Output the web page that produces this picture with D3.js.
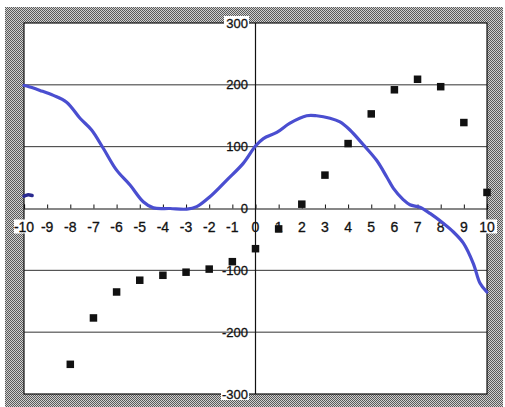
<!DOCTYPE html>
<html><head><meta charset="utf-8">
<script src="https://cdn.jsdelivr.net/npm/d3@7"></script>
<style>body{margin:0;background:#fff}svg{display:block}text{font-family:"Liberation Sans",Arial,sans-serif}</style>
</head><body>
<script>
// scatter series (black squares)
const pointX = [-8,-7,-6,-5,-4,-3,-2,-1,0,1,2,3,4,5,6,7,8,9,10];
const pointY = [-252,-177,-135,-116,-108,-103,-98,-86,-65,-33,7,54,105,153,192,209,197,139,26];
// hand drawn blue curve
const curveX = [-10,-9.88,-9.31,-8.73,-8.16,-7.58,-7.08,-6.57,-6.0,-5.42,-4.85,-4.41,-3.69,-2.97,-2.54,-1.97,-1.24,-0.53,0,0.34,0.92,1.49,2.21,2.64,3.22,3.65,4.08,4.66,5.23,5.67,5.95,6.39,6.67,7.1,7.54,8.11,8.55,8.98,9.41,9.70,9.99];
const curveY = [199,198,191,183,172,146,127,97,62,38,11,1,0,-1,3,19,46,73,101,113,123,138,150,150,146,140,127,103,78,51,33,14,6,2,-8,-24,-38,-56,-89,-121,-135];
// small stray stroke near x=-10
const strokeX = [-10,-9.85,-9.65];
const strokeY = [20,22,21];
const xTicks = [-10,-9,-8,-7,-6,-5,-4,-3,-2,-1,0,1,2,3,4,5,6,7,8,9,10];
const yTicks = [-300,-200,-100,0,100,200,300];

const W = 505, H = 407;
const svg = d3.select("body").append("svg").attr("width", W).attr("height", H);
const defs = svg.append("defs");
const pat = defs.append("pattern").attr("id","hatch").attr("width",2).attr("height",2).attr("patternUnits","userSpaceOnUse");
pat.append("rect").attr("width",2).attr("height",2).attr("fill","#d0d0d0");
pat.append("rect").attr("width",1).attr("height",1).attr("fill","#5a5a5a");
pat.append("rect").attr("x",1).attr("y",1).attr("width",1).attr("height",1).attr("fill","#5a5a5a");

svg.append("rect").attr("x",5).attr("y",7).attr("width",498).attr("height",402).attr("fill","url(#hatch)");

const x0 = 24, x1 = 487, y0 = 23, y1 = 394;
const x = d3.scaleLinear().domain([-10,10]).range([x0,x1]);
const y = d3.scaleLinear().domain([-300,300]).range([y1,y0]);

svg.append("rect").attr("x",x0).attr("y",y0).attr("width",x1-x0).attr("height",y1-y0).attr("fill","#fff");

// gridlines
svg.append("g").selectAll("line").data(yTicks.filter(v=>v!==0 && Math.abs(v)!==300)).join("line")
  .attr("x1",x0).attr("x2",x1).attr("y1",d=>y(d)).attr("y2",d=>y(d))
  .attr("stroke","#333").attr("stroke-width",1);

// plot border
svg.append("rect").attr("x",x0).attr("y",y0).attr("width",x1-x0).attr("height",y1-y0)
  .attr("fill","none").attr("stroke","#111").attr("stroke-width",1.2);

// x axis at y=0
const xAxis = d3.axisTop(x).tickValues(xTicks).tickSize(4).tickFormat("");
const gx = svg.append("g").attr("transform",`translate(0,${y(0)})`).call(xAxis);
gx.select(".domain").attr("stroke","#111").attr("stroke-width",1.2);
gx.selectAll(".tick line").attr("stroke","#111");

// y axis at x=0
svg.append("line").attr("x1",x(0)).attr("x2",x(0)).attr("y1",y0).attr("y2",y1).attr("stroke","#111").attr("stroke-width",1.2);

// x labels
const xl = svg.append("g");
xTicks.forEach(v=>{
  const edge = Math.abs(v)===10;
  if(edge){
    xl.append("rect").attr("x",x(v)-10).attr("y",y(0)+11).attr("width",20).attr("height",14).attr("fill","#fff");
  }
  xl.append("text").attr("x",x(v)).attr("y",y(0)+23).attr("text-anchor","middle")
    .attr("font-size",14).attr("fill","#111").attr("stroke","#111").attr("stroke-width",0.3).text(v);
});

// y labels
const yl = svg.append("g");
yTicks.forEach(v=>{
  const tw = v<0 ? 27 : 24;
  if(Math.abs(v)===300){
    yl.append("rect").attr("x",248-tw).attr("y",y(v)-7).attr("width",tw+1).attr("height",13).attr("fill","#fff");
  }
  yl.append("text").attr("x",248).attr("y",y(v)+4.5).attr("text-anchor","end")
    .attr("font-size",13).attr("fill","#111").attr("stroke","#111").attr("stroke-width",0.3).text(v);
});

// blue curve
const line = d3.line().x(d=>x(d[0])).y(d=>y(d[1])).curve(d3.curveCatmullRom);
svg.append("path").datum(curveX.map((v,i)=>[v,curveY[i]])).attr("d",line)
  .attr("fill","none").attr("stroke","#4a4ed0").attr("stroke-width",3.2).attr("stroke-linecap","round");
svg.append("path").datum(strokeX.map((v,i)=>[v,strokeY[i]])).attr("d",line)
  .attr("fill","none").attr("stroke","#2a2a90").attr("stroke-width",3.5).attr("stroke-linecap","round");

// squares
svg.append("g").selectAll("rect").data(pointX.map((v,i)=>[v,pointY[i]])).join("rect")
  .attr("x",d=>x(d[0])-3.75).attr("y",d=>y(d[1])-3.75).attr("width",7.5).attr("height",7.5).attr("fill","#111");
</script>
</body></html>
